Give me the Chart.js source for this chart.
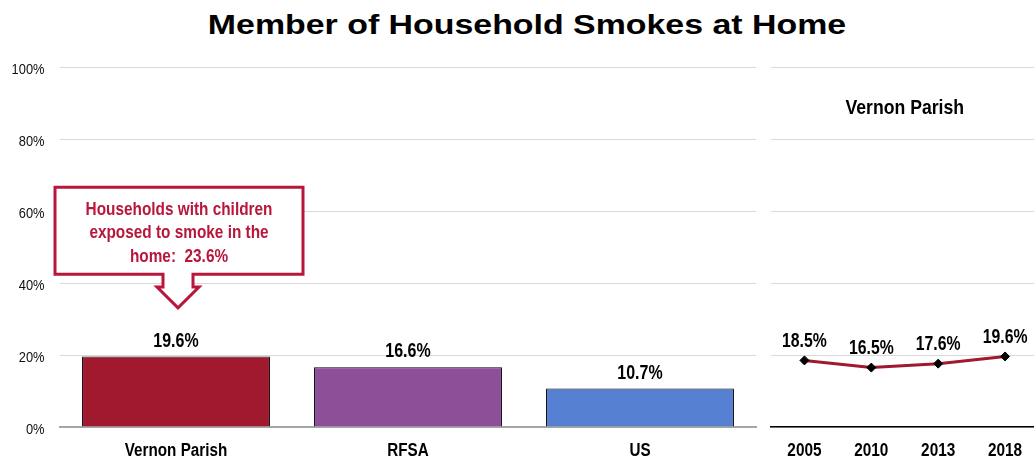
<!DOCTYPE html>
<html>
<head>
<meta charset="utf-8">
<script src="https://cdn.jsdelivr.net/npm/chart.js@4.4.1/dist/chart.umd.min.js"></script>
<style>
  html, body { margin: 0; padding: 0; background: #fff; }
  body { width: 1034px; height: 468px; position: relative; overflow: hidden; }
  #title { position: absolute; left: 0; top: 12px; width: 1054px; text-align: center;
    font-family: 'Liberation Sans', Arial, sans-serif; font-weight: bold; font-size: 27px; line-height: 27px;
    color: #000; transform: scaleX(1.255); transform-origin: 527px 0; white-space: nowrap; }
  #leftWrap { position: absolute; left: 0; top: 0; width: 760px; height: 468px; }
  #rightWrap { position: absolute; left: 760px; top: 0; width: 284px; height: 468px; }
</style>
</head>
<body>
<div id="title">Member of Household Smokes at Home</div>
<div id="leftWrap"><canvas id="left"></canvas></div>
<div id="rightWrap"><canvas id="right"></canvas></div>
<script>
const categories = ['Vernon Parish', 'RFSA', 'US'];
const barValues = [19.6, 16.6, 10.7];
const barColors = ['#a0192f', '#8c4f98', '#5680d1'];
const years = ['2005', '2010', '2013', '2018'];
const trendValues = [18.5, 16.5, 17.6, 19.6];
const trendTitle = 'Vernon Parish';
const yTicks = [0, 20, 40, 60, 80, 100];
const calloutLines = ['Households with children', 'exposed to smoke in the', 'home:  23.6%'];

const FONT = "'Liberation Sans', Arial, sans-serif";

// draws text horizontally condensed; y is the vertical centre of the cap height
function drawText(ctx, text, x, y, o) {
  ctx.save();
  ctx.font = (o.weight || 'normal') + ' ' + o.size + 'px ' + FONT;
  ctx.fillStyle = o.color || '#000';
  ctx.textBaseline = 'alphabetic';
  ctx.textAlign = o.align || 'center';
  ctx.translate(x, y + 0.716 * o.size / 2);
  ctx.scale(o.sx || 1, 1);
  ctx.fillText(text, 0, 0);
  ctx.restore();
}

const leftText = {
  id: 'leftText',
  afterDatasetsDraw(chart) {
    const ctx = chart.ctx;
    const xs = chart.scales.x, ys = chart.scales.y;
    yTicks.forEach(v => drawText(ctx, v + '%', 44.5, ys.getPixelForValue(v) + 1.8, { size: 15.5, sx: 0.83, align: 'right', color: '#111' }));
    categories.forEach((c, i) => drawText(ctx, c, xs.getPixelForValue(i), chart.chartArea.bottom + 23, { size: 17.5, sx: 0.87, weight: 'bold' }));
    const meta = chart.getDatasetMeta(0);
    meta.data.forEach((el, i) => drawText(ctx, barValues[i].toFixed(1) + '%', el.x, el.y - 17, { size: 20, sx: 0.8, weight: 'bold' }));
  }
};

const callout = {
  id: 'callout',
  afterDraw(chart) {
    const ctx = chart.ctx;
    const xs = chart.scales.x, ys = chart.scales.y;
    const cx = xs.getPixelForValue(0) + 3;
    const halfW = 124;
    const top = ys.getPixelForValue(66.6);
    const bottom = ys.getPixelForValue(42.4);
    const stemBottom = ys.getPixelForValue(38.9);
    const tip = ys.getPixelForValue(33.1);
    const sx = cx - 1;
    ctx.save();
    ctx.strokeStyle = '#b8173b';
    ctx.lineWidth = 3;
    ctx.fillStyle = '#fff';
    ctx.lineJoin = 'miter';
    ctx.beginPath();
    ctx.moveTo(cx - halfW, top);
    ctx.lineTo(cx + halfW, top);
    ctx.lineTo(cx + halfW, bottom);
    ctx.lineTo(sx + 15, bottom);
    ctx.lineTo(sx + 15, stemBottom);
    ctx.lineTo(sx + 21, stemBottom);
    ctx.lineTo(sx, tip);
    ctx.lineTo(sx - 21, stemBottom);
    ctx.lineTo(sx - 15, stemBottom);
    ctx.lineTo(sx - 15, bottom);
    ctx.lineTo(cx - halfW, bottom);
    ctx.closePath();
    ctx.fill();
    ctx.stroke();
    ctx.restore();
    calloutLines.forEach((t, i) => drawText(ctx, t, cx, top + 21 + i * 23.5, { size: 18.5, sx: 0.83, weight: 'bold', color: '#b8173b' }));
  }
};

new Chart(document.getElementById('left'), {
  type: 'bar',
  data: {
    labels: categories,
    datasets: [{
      data: barValues,
      backgroundColor: barColors,
      borderColor: '#000',
      borderWidth: 1,
      borderSkipped: 'bottom',
      categoryPercentage: 1,
      barPercentage: 0.81
    }]
  },
  options: {
    responsive: true,
    maintainAspectRatio: false,
    animation: false,
    layout: { padding: { top: 67, right: 4, left: 0, bottom: 0 } },
    plugins: { legend: { display: false }, tooltip: { enabled: false } },
    scales: {
      x: {
        grid: { display: false },
        border: { display: true, color: '#a6a6a6', width: 2 },
        ticks: { display: false },
        afterFit(s) { s.height = 41; }
      },
      y: {
        min: 0, max: 100,
        afterBuildTicks(s) { s.ticks = yTicks.map(v => ({ value: v })); },
        grid: { color: '#d9d9d9', lineWidth: 1, drawTicks: false },
        border: { display: false },
        ticks: { display: false },
        afterFit(s) { s.width = 60; }
      }
    }
  },
  plugins: [leftText, callout]
});

const rightText = {
  id: 'rightText',
  afterDatasetsDraw(chart) {
    const ctx = chart.ctx;
    const xs = chart.scales.x;
    const ca = chart.chartArea;
    years.forEach((yr, i) => drawText(ctx, yr, xs.getPixelForValue(i), ca.bottom + 22, { size: 18.5, sx: 0.83, weight: 'bold' }));
    const meta = chart.getDatasetMeta(0);
    meta.data.forEach((el, i) => drawText(ctx, trendValues[i].toFixed(1) + '%', el.x, el.y - 21, { size: 20, sx: 0.79, weight: 'bold' }));
    drawText(ctx, trendTitle, (ca.left + ca.right) / 2, 106.5, { size: 21, sx: 0.84, weight: 'bold' });
  }
};

new Chart(document.getElementById('right'), {
  type: 'line',
  data: {
    labels: years,
    datasets: [{
      data: trendValues,
      borderColor: '#a0192f',
      borderWidth: 3,
      pointStyle: 'rectRot',
      pointRadius: 4.5,
      pointBackgroundColor: '#000',
      pointBorderColor: '#000',
      pointBorderWidth: 1,
      tension: 0
    }]
  },
  options: {
    responsive: true,
    maintainAspectRatio: false,
    animation: false,
    layout: { padding: { top: 67, right: 0, left: 0, bottom: 0 } },
    plugins: { legend: { display: false }, tooltip: { enabled: false } },
    scales: {
      x: {
        offset: true,
        grid: { display: false },
        border: { display: true, color: '#000', width: 1.5 },
        ticks: { display: false },
        afterFit(s) { s.height = 41; }
      },
      y: {
        min: 0, max: 100,
        afterBuildTicks(s) { s.ticks = yTicks.map(v => ({ value: v })); },
        grid: { color: '#d9d9d9', lineWidth: 1, drawTicks: false },
        border: { display: false },
        ticks: { display: false },
        afterFit(s) { s.width = 11; }
      }
    }
  },
  plugins: [rightText]
});
</script>
</body>
</html>
